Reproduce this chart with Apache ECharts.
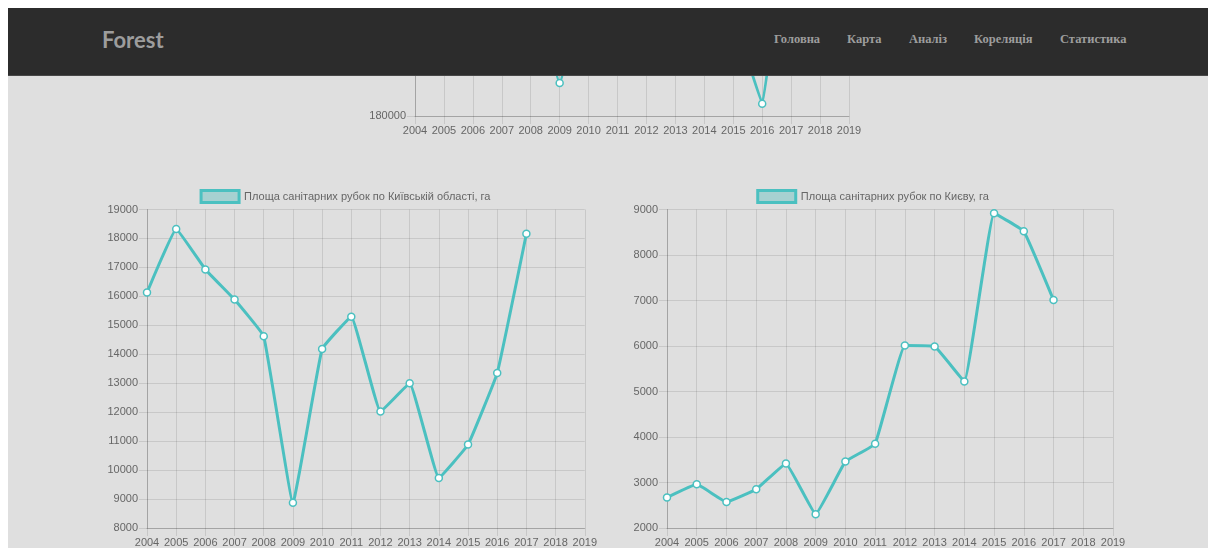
<!DOCTYPE html>
<html>
<head>
    <meta charset="utf-8">
    <title>Статистика</title>
    <script src="https://cdn.jsdelivr.net/npm/echarts@6/dist/echarts.min.js"></script>
</head>
<style>
    html, body {margin:0;padding:0;background:#fff;width:1208px;height:548px;overflow:hidden}
    .page {position:absolute;left:8px;top:8px;width:1200px;height:540px;background:#dfdfdf;overflow:hidden}
    .navbar {position:absolute;left:8px;top:8px;width:1200px;height:67px;background:#2c2c2c;border-bottom:1px solid #474747;z-index:10}
    .brand {position:absolute;left:94px;top:18px;font-family:Lato,sans-serif;font-weight:700;font-size:22px;color:#9d9d9d}
    .nav span {position:absolute;top:24px;font-family:"Liberation Serif",serif;font-weight:700;font-size:12.5px;color:#9d9d9d;white-space:nowrap}
    .chart {position:absolute}
    .white-top {position:absolute;left:0;top:0;width:1208px;height:8px;background:#fff;z-index:11}
</style>
<body>
<div class="page"></div>
<div class="chart" id="chart-total" style="left:300px;top:-300px;width:600px;height:450px;"></div>
<div class="chart" id="chart-region" style="left:90px;top:175px;width:510px;height:373px;"></div>
<div class="chart" id="chart-city" style="left:610px;top:175px;width:525px;height:373px;"></div>
<div class="white-top"></div>
<div class="navbar">
    <div class="brand">Forest</div>
    <div class="nav">
        <span style="left:766px">Головна</span>
        <span style="left:839px">Карта</span>
        <span style="left:901px">Аналіз</span>
        <span style="left:966px">Кореляція</span>
        <span style="left:1052px">Статистика</span>
    </div>
</div>
<script>
    var years = ['2004','2005','2006','2007','2008','2009','2010','2011','2012','2013','2014','2015','2016','2017','2018','2019'];

    // верхній графік (видно лише низ)
    var totalName = 'Площа санітарних рубок по Україні, га';
    var totalValues = [230000, 235000, 228000, 240000, 216000, 188250, 220000, 238000, 232000, 236000, 226000, 205500, 183080, 242500, null, null];

    var regionName = 'Площа санітарних рубок по Київській області, га';
    var regionValues = [16130, 18330, 16930, 15890, 14620, 8870, 14180, 15300, 12020, 13000, 9730, 10880, 13350, 18160, null, null];

    var cityName = 'Площа санітарних рубок по Києву, га';
    var cityValues = [2670, 2960, 2570, 2850, 3420, 2300, 3460, 3850, 6010, 5990, 5220, 8920, 8520, 7010, null, null];

    var teal = '#4bc0c0';
    var gridColor = 'rgba(0,0,0,0.1)';
    var font = '"Liberation Sans", Arial, sans-serif';

    function makeOption(name, values, grid, yMin, yMax, yStep) {
        return {
            animation: false,
            legend: {
                top: 9,
                left: 'center',
                itemWidth: 38,
                itemHeight: 12,
                textStyle: {color: '#666', fontSize: 11, fontFamily: font},
                data: [{
                    name: name,
                    icon: 'rect',
                    itemStyle: {color: '#a6d1d1', borderColor: teal, borderWidth: 3}
                }]
            },
            grid: grid,
            xAxis: {
                type: 'category',
                boundaryGap: false,
                data: years,
                axisLine: {lineStyle: {color: 'rgba(0,0,0,0.18)', width: 1}},
                axisTick: {show: true, length: 8, lineStyle: {color: gridColor}},
                axisLabel: {color: '#666', fontSize: 11, fontFamily: font, margin: 9, interval: 0},
                splitLine: {show: true, lineStyle: {color: gridColor}}
            },
            yAxis: {
                type: 'value',
                min: yMin,
                max: yMax,
                interval: yStep,
                axisLine: {show: true, lineStyle: {color: 'rgba(0,0,0,0.18)', width: 1}},
                axisTick: {show: true, length: 8, lineStyle: {color: gridColor}},
                axisLabel: {
                    color: '#666', fontSize: 11, fontFamily: font, margin: 9,
                    formatter: function (v) { return String(v); }
                },
                splitLine: {show: true, lineStyle: {color: gridColor}}
            },
            series: [{
                name: name,
                type: 'line',
                data: values,
                smooth: 0.08,
                symbol: 'circle',
                symbolSize: 7,
                showAllSymbol: true,
                lineStyle: {color: teal, width: 3},
                itemStyle: {color: '#fff', borderColor: teal, borderWidth: 1.5}
            }]
        };
    }

    var chartTotal = echarts.init(document.getElementById('chart-total'));
    chartTotal.setOption(makeOption(totalName, totalValues,
        {left: 115, width: 434, top: 96, height: 320}, 180000, 260000, 20000));

    var chartRegion = echarts.init(document.getElementById('chart-region'));
    chartRegion.setOption(makeOption(regionName, regionValues,
        {left: 57, width: 440, top: 34.5, height: 321}, 8000, 19000, 1000));

    var chartCity = echarts.init(document.getElementById('chart-city'));
    chartCity.setOption(makeOption(cityName, cityValues,
        {left: 57, width: 446, top: 34.5, height: 321}, 2000, 9000, 1000));

    window.onresize = function () {
        chartTotal.resize();
        chartRegion.resize();
        chartCity.resize();
    };
</script>
</body>
</html>
